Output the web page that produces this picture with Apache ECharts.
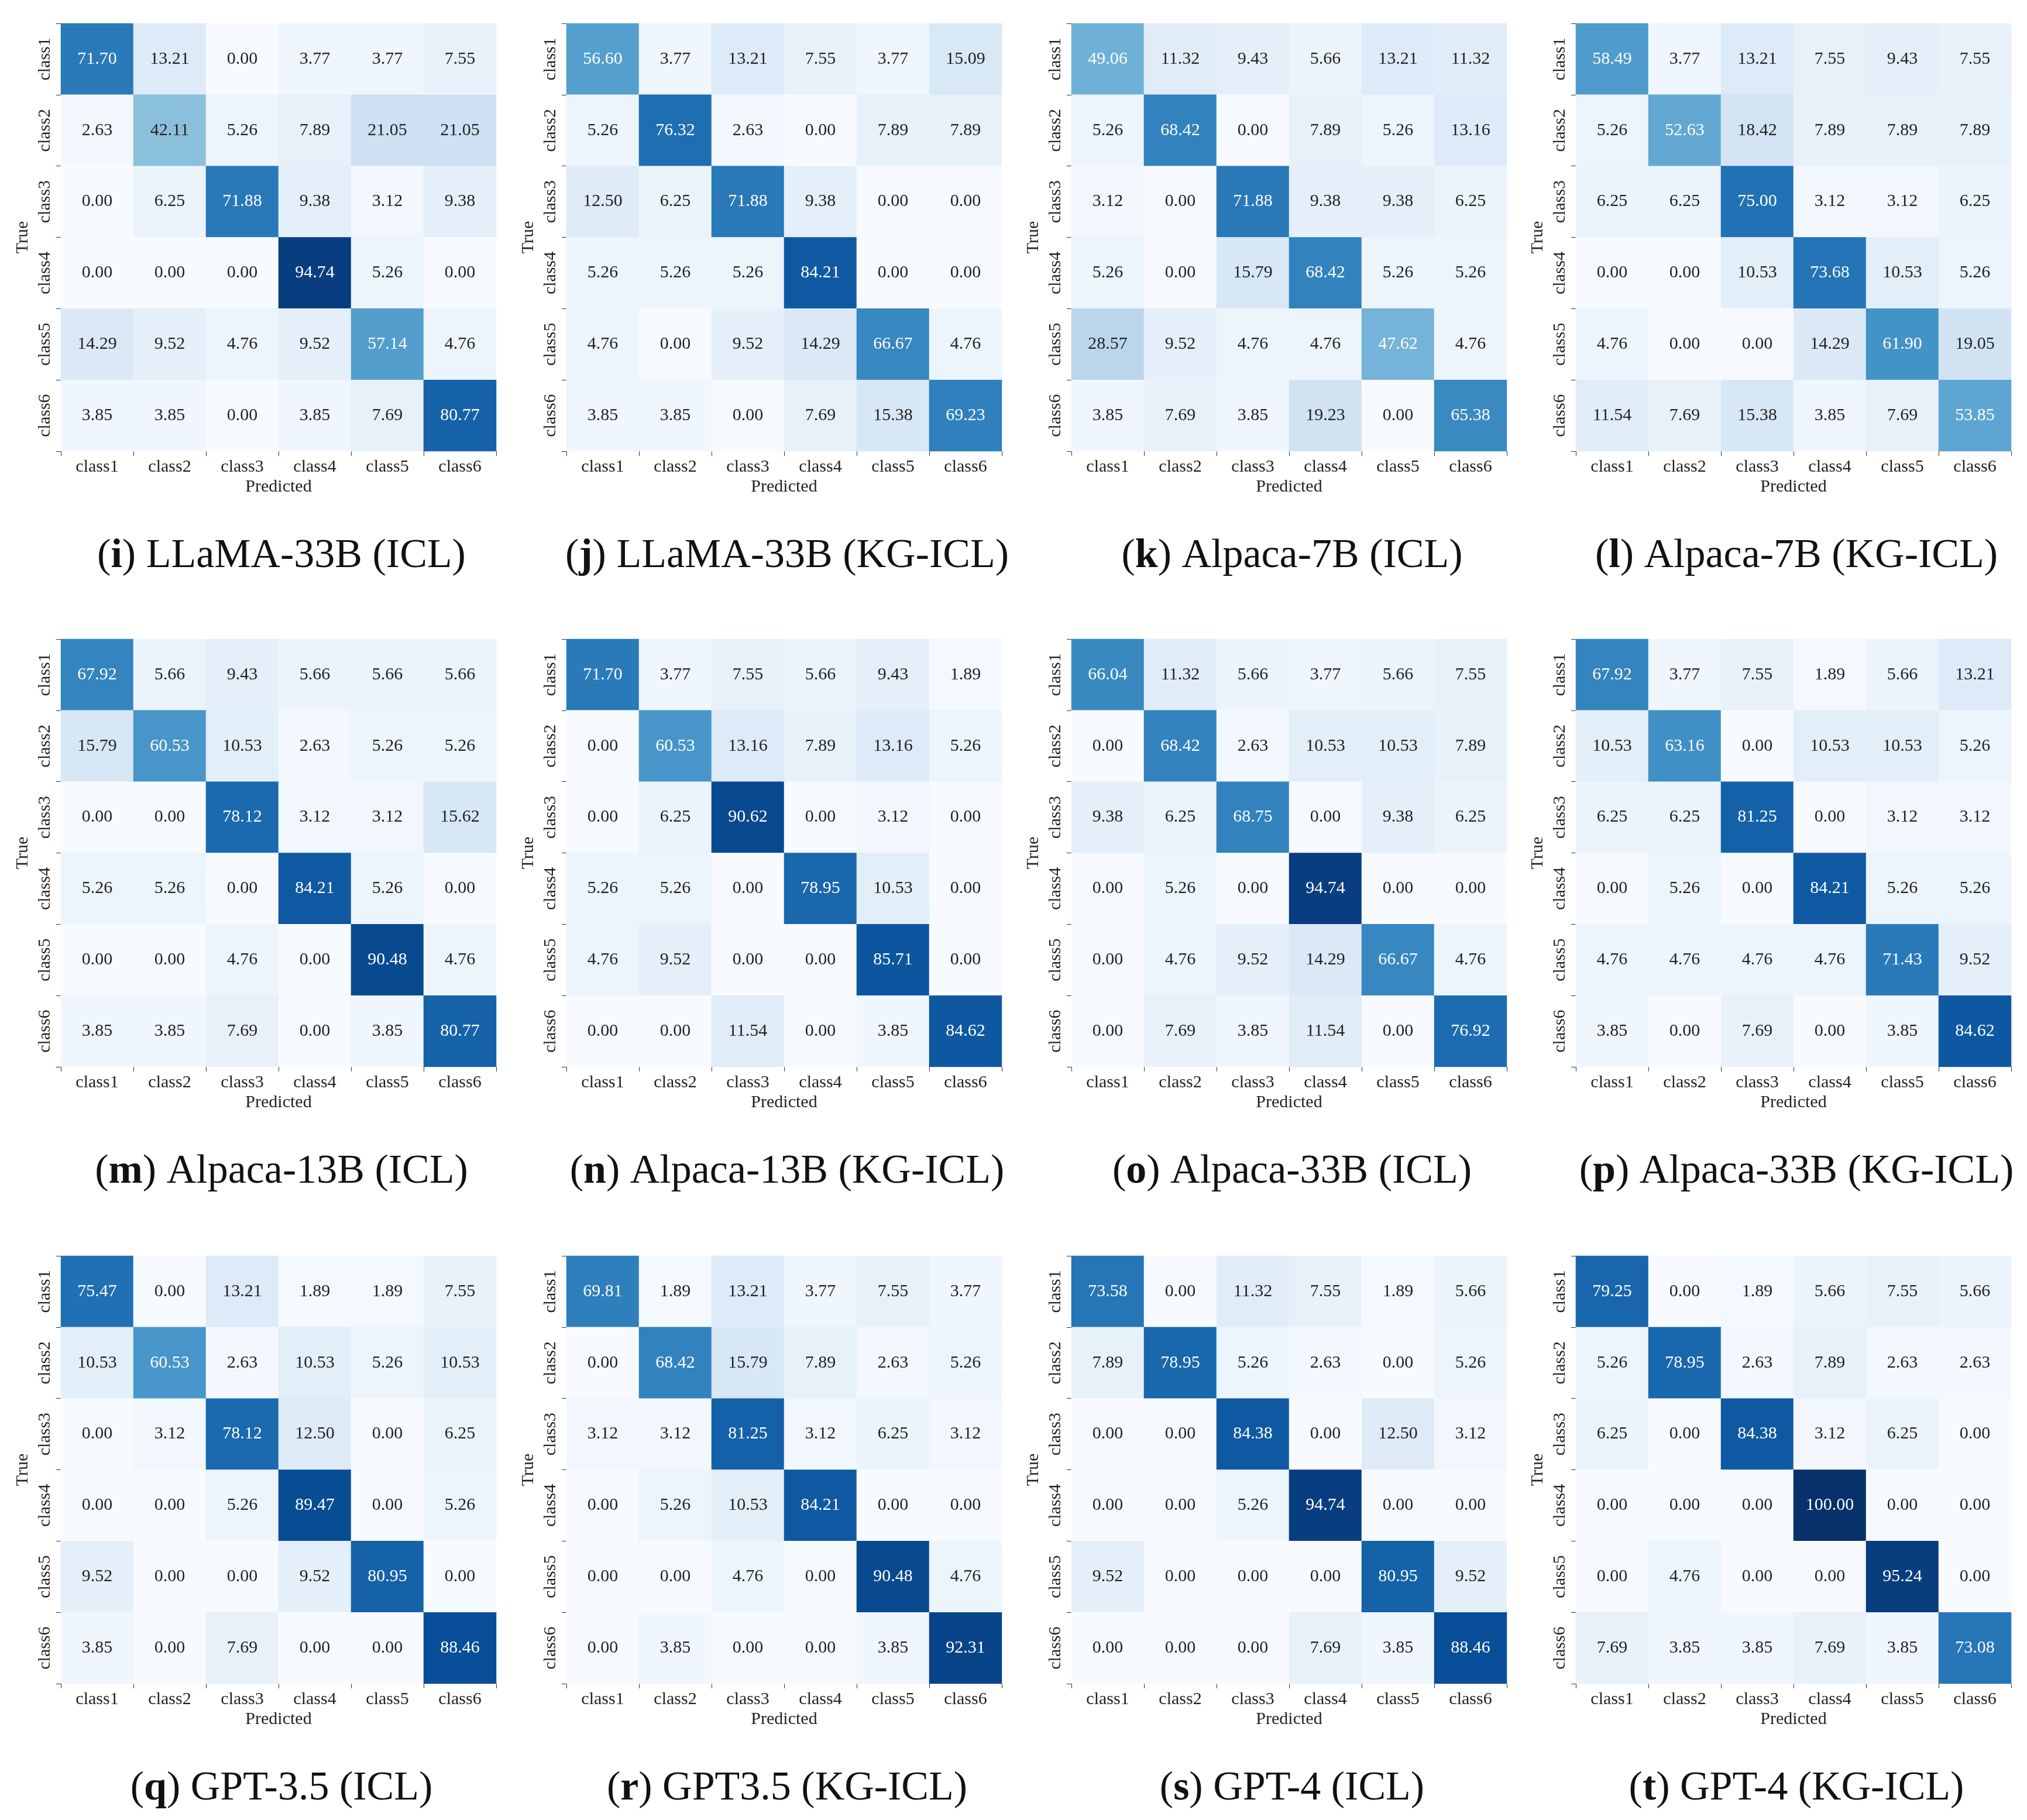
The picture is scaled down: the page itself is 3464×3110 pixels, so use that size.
<!DOCTYPE html>
<html>
<head>
<meta charset="utf-8">
<script src="https://cdn.jsdelivr.net/npm/echarts@6/dist/echarts.min.js"></script>
<style>html,body{margin:0;background:#fff}#c{width:3464px;height:3110px}</style>
</head>
<body>
<div id="c"></div>
<script>
const classes = ['class1', 'class2', 'class3', 'class4', 'class5', 'class6']

const letters = ['i', 'j', 'k', 'l', 'm', 'n', 'o', 'p', 'q', 'r', 's', 't']
const names = ['LLaMA-33B (ICL)', 'LLaMA-33B (KG-ICL)', 'Alpaca-7B (ICL)', 'Alpaca-7B (KG-ICL)',
  'Alpaca-13B (ICL)', 'Alpaca-13B (KG-ICL)', 'Alpaca-33B (ICL)', 'Alpaca-33B (KG-ICL)',
  'GPT-3.5 (ICL)', 'GPT3.5 (KG-ICL)', 'GPT-4 (ICL)', 'GPT-4 (KG-ICL)']

const mI = [[71.70, 13.21, 0, 3.77, 3.77, 7.55], [2.63, 42.11, 5.26, 7.89, 21.05, 21.05], [0, 6.25, 71.88, 9.38, 3.12, 9.38], [0, 0, 0, 94.74, 5.26, 0], [14.29, 9.52, 4.76, 9.52, 57.14, 4.76], [3.85, 3.85, 0, 3.85, 7.69, 80.77]]
const mJ = [[56.60, 3.77, 13.21, 7.55, 3.77, 15.09], [5.26, 76.32, 2.63, 0, 7.89, 7.89], [12.50, 6.25, 71.88, 9.38, 0, 0], [5.26, 5.26, 5.26, 84.21, 0, 0], [4.76, 0, 9.52, 14.29, 66.67, 4.76], [3.85, 3.85, 0, 7.69, 15.38, 69.23]]
const mK = [[49.06, 11.32, 9.43, 5.66, 13.21, 11.32], [5.26, 68.42, 0, 7.89, 5.26, 13.16], [3.12, 0, 71.88, 9.38, 9.38, 6.25], [5.26, 0, 15.79, 68.42, 5.26, 5.26], [28.57, 9.52, 4.76, 4.76, 47.62, 4.76], [3.85, 7.69, 3.85, 19.23, 0, 65.38]]
const mL = [[58.49, 3.77, 13.21, 7.55, 9.43, 7.55], [5.26, 52.63, 18.42, 7.89, 7.89, 7.89], [6.25, 6.25, 75.00, 3.12, 3.12, 6.25], [0, 0, 10.53, 73.68, 10.53, 5.26], [4.76, 0, 0, 14.29, 61.90, 19.05], [11.54, 7.69, 15.38, 3.85, 7.69, 53.85]]
const mM = [[67.92, 5.66, 9.43, 5.66, 5.66, 5.66], [15.79, 60.53, 10.53, 2.63, 5.26, 5.26], [0, 0, 78.12, 3.12, 3.12, 15.62], [5.26, 5.26, 0, 84.21, 5.26, 0], [0, 0, 4.76, 0, 90.48, 4.76], [3.85, 3.85, 7.69, 0, 3.85, 80.77]]
const mN = [[71.70, 3.77, 7.55, 5.66, 9.43, 1.89], [0, 60.53, 13.16, 7.89, 13.16, 5.26], [0, 6.25, 90.62, 0, 3.12, 0], [5.26, 5.26, 0, 78.95, 10.53, 0], [4.76, 9.52, 0, 0, 85.71, 0], [0, 0, 11.54, 0, 3.85, 84.62]]
const mO = [[66.04, 11.32, 5.66, 3.77, 5.66, 7.55], [0, 68.42, 2.63, 10.53, 10.53, 7.89], [9.38, 6.25, 68.75, 0, 9.38, 6.25], [0, 5.26, 0, 94.74, 0, 0], [0, 4.76, 9.52, 14.29, 66.67, 4.76], [0, 7.69, 3.85, 11.54, 0, 76.92]]
const mP = [[67.92, 3.77, 7.55, 1.89, 5.66, 13.21], [10.53, 63.16, 0, 10.53, 10.53, 5.26], [6.25, 6.25, 81.25, 0, 3.12, 3.12], [0, 5.26, 0, 84.21, 5.26, 5.26], [4.76, 4.76, 4.76, 4.76, 71.43, 9.52], [3.85, 0, 7.69, 0, 3.85, 84.62]]
const mQ = [[75.47, 0, 13.21, 1.89, 1.89, 7.55], [10.53, 60.53, 2.63, 10.53, 5.26, 10.53], [0, 3.12, 78.12, 12.50, 0, 6.25], [0, 0, 5.26, 89.47, 0, 5.26], [9.52, 0, 0, 9.52, 80.95, 0], [3.85, 0, 7.69, 0, 0, 88.46]]
const mR = [[69.81, 1.89, 13.21, 3.77, 7.55, 3.77], [0, 68.42, 15.79, 7.89, 2.63, 5.26], [3.12, 3.12, 81.25, 3.12, 6.25, 3.12], [0, 5.26, 10.53, 84.21, 0, 0], [0, 0, 4.76, 0, 90.48, 4.76], [0, 3.85, 0, 0, 3.85, 92.31]]
const mS = [[73.58, 0, 11.32, 7.55, 1.89, 5.66], [7.89, 78.95, 5.26, 2.63, 0, 5.26], [0, 0, 84.38, 0, 12.50, 3.12], [0, 0, 5.26, 94.74, 0, 0], [9.52, 0, 0, 0, 80.95, 9.52], [0, 0, 0, 7.69, 3.85, 88.46]]
const mT = [[79.25, 0, 1.89, 5.66, 7.55, 5.66], [5.26, 78.95, 2.63, 7.89, 2.63, 2.63], [6.25, 0, 84.38, 3.12, 6.25, 0], [0, 0, 0, 100, 0, 0], [0, 4.76, 0, 0, 95.24, 0], [7.69, 3.85, 3.85, 7.69, 3.85, 73.08]]
const matrices = [mI, mJ, mK, mL, mM, mN, mO, mP, mQ, mR, mS, mT]

const blues = ['#f7fbff', '#deebf7', '#c6dbef', '#9ecae1', '#6baed6', '#4292c6', '#2171b5', '#08519c', '#08306b']
const font = 'Liberation Serif'

const colLeft = [104, 968, 1831, 2693]
const rowTop = [40, 1092, 2146]
const W = 744
const H = 731

const grid = []
const xAxis = []
const yAxis = []
const series = []
const visualMap = []
const title = []

matrices.forEach((m, k) => {
  const left = colLeft[k % 4]
  const top = rowTop[Math.floor(k / 4)]
  const data = []
  m.forEach((row, r) => row.forEach((v, c) => {
    data.push([c, r, v])
  }))
  grid.push({ left: left, top: top, width: W, height: H })
  xAxis.push({
    type: 'category', gridIndex: k, data: classes, position: 'bottom',
    name: 'Predicted', nameLocation: 'middle', nameGap: 46,
    nameTextStyle: { fontFamily: font, fontSize: 30, color: '#222' },
    axisLine: { show: false }, axisTick: { show: true, length: 8, lineStyle: { color: '#333' } },
    axisLabel: { fontFamily: font, fontSize: 30, color: '#222', margin: 12 },
    splitLine: { show: false }
  })
  yAxis.push({
    type: 'category', gridIndex: k, data: classes, inverse: true,
    name: 'True', nameLocation: 'middle', nameGap: 50,
    nameTextStyle: { fontFamily: font, fontSize: 30, color: '#222' },
    axisLine: { show: false }, axisTick: { show: true, length: 8, lineStyle: { color: '#333' } },
    axisLabel: { fontFamily: font, fontSize: 30, color: '#222', rotate: 90, margin: 12 },
    splitLine: { show: false }
  })
  visualMap.push({
    show: false, seriesIndex: k, min: 0, max: 100, dimension: 2,
    inRange: { color: blues }
  })
  series.push({
    type: 'heatmap', xAxisIndex: k, yAxisIndex: k,
    data: data.map(d => ({
      value: d,
      label: { color: d[2] > 45 ? '#fff' : '#222' }
    })),
    label: {
      show: true, fontFamily: font, fontSize: 30,
      formatter: p => p.value[2].toFixed(2)
    },
    itemStyle: { borderWidth: 0 }
  })
  title.push({
    text: '({b|' + letters[k] + '}{n|) ' + names[k] + '}',
    left: left + W / 2, top: top + H + 140, textAlign: 'center',
    textStyle: {
      fontFamily: font, fontSize: 70, fontWeight: 'normal', color: '#111',
      rich: {
        b: { fontFamily: font, fontSize: 70, fontWeight: 'bold', color: '#111' },
        n: { fontFamily: font, fontSize: 70, fontWeight: 'normal', color: '#111' }
      }
    }
  })
})

const chart = echarts.init(document.getElementById('c'))
chart.setOption({
  animation: false,
  backgroundColor: '#fff',
  title: title,
  grid: grid,
  xAxis: xAxis,
  yAxis: yAxis,
  visualMap: visualMap,
  series: series
})
</script>
</body>
</html>
